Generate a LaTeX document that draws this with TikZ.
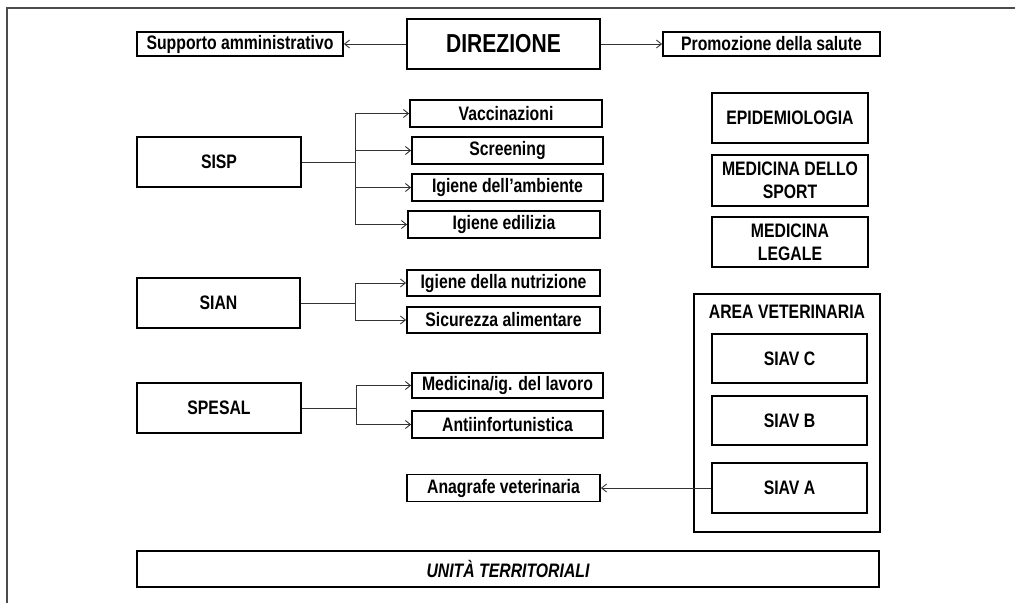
\documentclass[tikz,border=0pt]{standalone}
\usepackage{fontspec}
\newfontfamily\labfont[FakeStretch=0.81]{Liberation Sans}
\usetikzlibrary{arrows.meta}
\begin{document}
\begin{tikzpicture}[x=1pt,y=-1pt,
  box/.style={draw=black,line width=1.8pt,inner sep=0pt,align=center,
    font=\labfont\bfseries\fontsize{19.5}{23}\selectfont},
  bigbox/.style={box,font=\labfont\bfseries\fontsize{26}{29}\selectfont},
  conn/.style={draw=black!80,line width=0.9pt},
  arr/.style={conn,-{Straight Barb[length=5pt,width=8pt,line width=0.9pt]}},
  frame/.style={draw=black!70,line width=1.4pt}]
\useasboundingbox (0,0) rectangle (1015,603);
% outer frame
\coordinate (ftr) at (1015,8);
\coordinate (ftl) at (7,8);
\coordinate (fbl) at (7,603);
\draw[frame] (ftr) -- (ftl) -- (fbl);
% top row
\node[bigbox,minimum width=193,minimum height=50] (dir) at (503.5,44) {DIREZIONE};
\node[box,minimum width=206,minimum height=24] (supp) at (240,44) {Supporto amministrativo};
\node[box,minimum width=217,minimum height=24] (prom) at (771.5,44) {Promozione della salute};
\draw[arr] (dir.west) -- (supp.east);
\draw[arr] (dir.east) -- (prom.west);
% SISP
\node[box,minimum width=164,minimum height=50] (sisp) at (219,162) {SISP};
\node[box,minimum width=192,minimum height=27] (vacc) at (506,113.5) {Vaccinazioni};
\node[box,minimum width=191,minimum height=27] (scr) at (507.5,150.5) {Screening};
\node[box,minimum width=191,minimum height=27] (amb) at (507.5,187.5) {Igiene dell’ambiente};
\node[box,minimum width=192,minimum height=27] (edil) at (504,224.5) {Igiene edilizia};
\coordinate (sj) at (355,162);
\draw[conn] (sisp.east) -- (sj);
\draw[arr] (sj) |- (vacc.west);
\draw[arr] (sj) |- (scr.west);
\draw[arr] (sj) |- (amb.west);
\draw[arr] (sj) |- (edil.west);
% SIAN
\node[box,minimum width=163,minimum height=50] (sian) at (218.5,303) {SIAN};
\node[box,minimum width=193,minimum height=26] (nutr) at (503.5,283) {Igiene della nutrizione};
\node[box,minimum width=193,minimum height=26] (sic) at (503.5,320) {Sicurezza alimentare};
\coordinate (aj) at (355,303);
\draw[conn] (sian.east) -- (aj);
\draw[arr] (aj) |- (nutr.west);
\draw[arr] (aj) |- (sic.west);
% SPESAL
\node[box,minimum width=164,minimum height=50] (spesal) at (219,408) {SPESAL};
\node[box,minimum width=191,minimum height=25] (med) at (507.5,385.5) {Medicina/ig. del lavoro};
\node[box,minimum width=191,minimum height=27] (anti) at (507.5,424.5) {Antiinfortunistica};
\coordinate (pj) at (356,408);
\draw[conn] (spesal.east) -- (pj);
\draw[arr] (pj) |- (med.west);
\draw[arr] (pj) |- (anti.west);
% right column
\node[box,minimum width=156,minimum height=50] (epi) at (790,118) {EPIDEMIOLOGIA};
\node[box,minimum width=156,minimum height=51] (sport) at (790,180.5) {MEDICINA DELLO\\SPORT};
\node[box,minimum width=156,minimum height=50] (leg) at (790,242) {MEDICINA\\LEGALE};
% area veterinaria
\node[box,minimum width=186,minimum height=238] (area) at (787,413) {};
\node[inner sep=0pt,font=\labfont\bfseries\fontsize{19.5}{23}\selectfont] (arealab) at (787,312) {AREA VETERINARIA};
\node[box,minimum width=155,minimum height=49] (siavc) at (789.5,358.5) {SIAV C};
\node[box,minimum width=155,minimum height=49] (siavb) at (789.5,420.5) {SIAV B};
\node[box,minimum width=155,minimum height=50] (siava) at (789.5,488) {SIAV A};
\node[box,minimum width=193,minimum height=27] (anag) at (503.5,488) {Anagrafe veterinaria};
\draw[arr] (siava.west) -- (anag.east);
% unita territoriali
\node[box,minimum width=742,minimum height=36,font=\labfont\bfseries\itshape\fontsize{19.5}{23}\selectfont] (unita) at (508,569) {UNITÀ TERRITORIALI};
\end{tikzpicture}
\end{document}
